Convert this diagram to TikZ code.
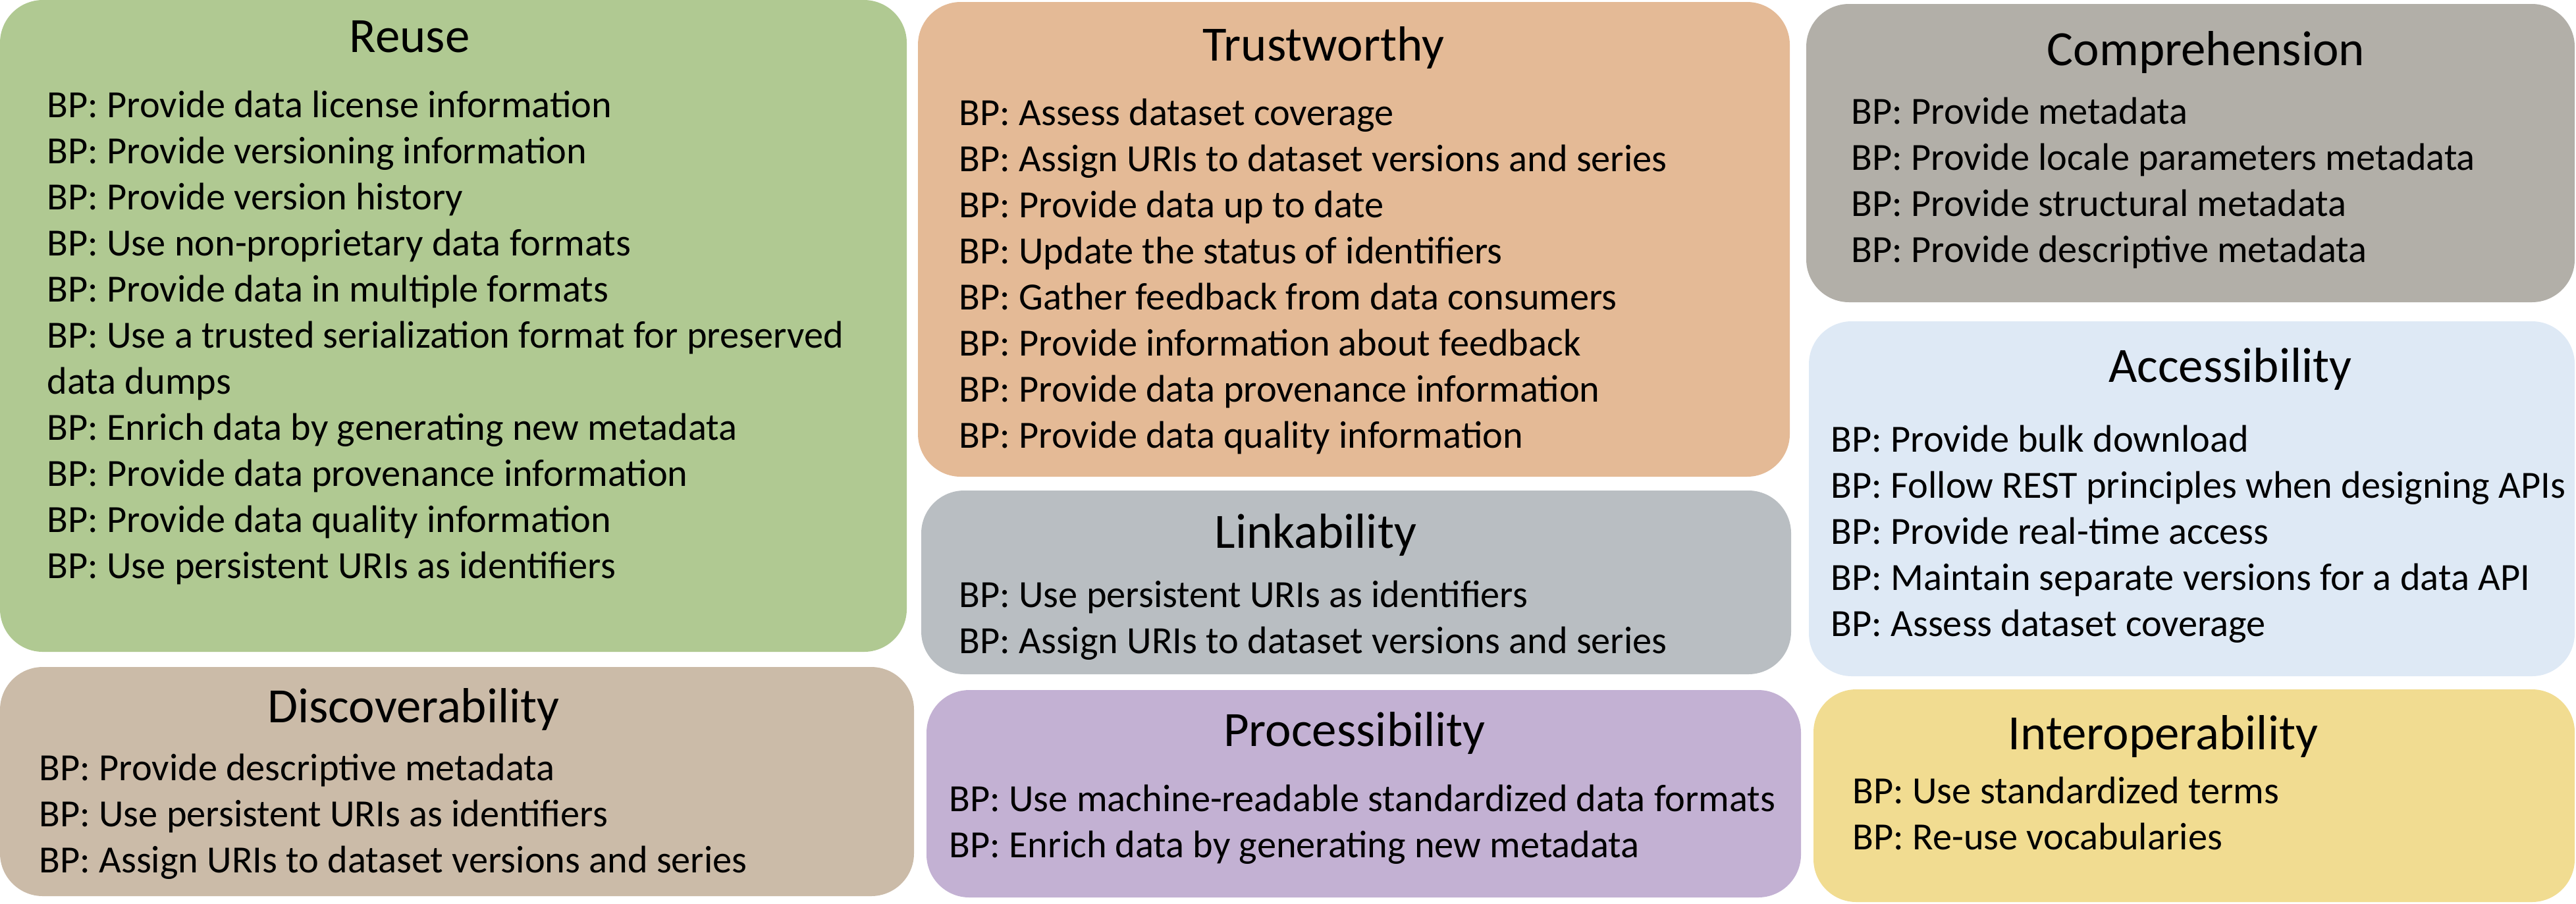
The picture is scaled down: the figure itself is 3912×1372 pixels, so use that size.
\documentclass[tikz,border=0pt]{standalone}
\usepackage{fontspec}
\setmainfont{Carlito}
\usepackage{tikz}
\usepackage{xcolor}

\definecolor{reusegreen}{HTML}{B0C992}
\definecolor{trustorange}{HTML}{E4BA96}
\definecolor{compgray}{HTML}{B2AFA8}
\definecolor{accessblue}{HTML}{DEE9F5}
\definecolor{linkgray}{HTML}{B9BEC2}
\definecolor{discotan}{HTML}{CBBBA8}
\definecolor{procpurple}{HTML}{C3B1D3}
\definecolor{interyellow}{HTML}{F1DC91}

\tikzset{
  panel/.style={rounded corners=0.65cm},
  title/.style={anchor=base, inner sep=0pt, font=\fontsize{21.3}{25}\selectfont},
  bp/.style={anchor=base west, inner sep=0pt, font=\fontsize{16.6}{20}\selectfont}
}

\begin{document}
\begin{tikzpicture}[x=0.01cm, y=-0.01cm]
\useasboundingbox (0,0) rectangle (3912,1372);
% panels
\fill[panel, reusegreen] (0,0) rectangle (1377,990);
\fill[panel, trustorange] (1394,3) rectangle (2718,724);
\fill[panel, compgray] (2743,6) rectangle (3910,459);
\fill[panel, accessblue] (2747,488) rectangle (3910,1027);
\fill[panel, linkgray] (1399,745) rectangle (2720,1024);
\fill[panel, discotan] (0,1013) rectangle (1388,1361);
\fill[panel, procpurple] (1407,1048) rectangle (2735,1363);
\fill[panel, interyellow] (2754,1047) rectangle (3910,1370);
% Reuse
\node[title] (reuse) at (622,79) {Reuse};
\node[bp] (reuse1) at (71,178) {BP: Provide data license information};
\node[bp] (reuse2) at (71,248) {BP: Provide versioning information};
\node[bp] (reuse3) at (71,318) {BP: Provide version history};
\node[bp] (reuse4) at (71,388) {BP: Use non-proprietary data formats};
\node[bp] (reuse5) at (71,458) {BP: Provide data in multiple formats};
\node[bp] (reuse6) at (71,528) {BP: Use a trusted serialization format for preserved};
\node[bp] (reuse6b) at (71,598) {data dumps};
\node[bp] (reuse7) at (71,668) {BP: Enrich data by generating new metadata};
\node[bp] (reuse8) at (71,738) {BP: Provide data provenance information};
\node[bp] (reuse9) at (71,808) {BP: Provide data quality information};
\node[bp] (reuse10) at (71,878) {BP: Use persistent URIs as identifiers};
% Trustworthy
\node[title] (trust) at (2010,92) {Trustworthy};
\node[bp] (trust1) at (1456,190) {BP: Assess dataset coverage};
\node[bp] (trust2) at (1456,260) {BP: Assign URIs to dataset versions and series};
\node[bp] (trust3) at (1456,330) {BP: Provide data up to date};
\node[bp] (trust4) at (1456,400) {BP: Update the status of identifiers};
\node[bp] (trust5) at (1456,470) {BP: Gather feedback from data consumers};
\node[bp] (trust6) at (1456,540) {BP: Provide information about feedback};
\node[bp] (trust7) at (1456,610) {BP: Provide data provenance information};
\node[bp] (trust8) at (1456,680) {BP: Provide data quality information};
% Comprehension
\node[title] (comp) at (3350,99) {Comprehension};
\node[bp] (comp1) at (2811,188) {BP: Provide metadata};
\node[bp] (comp2) at (2811,258) {BP: Provide locale parameters metadata};
\node[bp] (comp3) at (2811,328) {BP: Provide structural metadata};
\node[bp] (comp4) at (2811,398) {BP: Provide descriptive metadata};
% Accessibility
\node[title] (access) at (3387,580) {Accessibility};
\node[bp] (access1) at (2780,686) {BP: Provide bulk download};
\node[bp] (access2) at (2780,756) {BP: Follow REST principles when designing APIs};
\node[bp] (access3) at (2780,826) {BP: Provide real-time access};
\node[bp] (access4) at (2780,896) {BP: Maintain separate versions for a data API};
\node[bp] (access5) at (2780,966) {BP: Assess dataset coverage};
% Linkability
\node[title] (link) at (1998,832) {Linkability};
\node[bp] (link1) at (1456,922) {BP: Use persistent URIs as identifiers};
\node[bp] (link2) at (1456,992) {BP: Assign URIs to dataset versions and series};
% Discoverability
\node[title] (disco) at (628,1097) {Discoverability};
\node[bp] (disco1) at (59,1185) {BP: Provide descriptive metadata};
\node[bp] (disco2) at (59,1255) {BP: Use persistent URIs as identifiers};
\node[bp] (disco3) at (59,1325) {BP: Assign URIs to dataset versions and series};
% Processibility
\node[title] (proc) at (2057,1133) {Processibility};
\node[bp] (proc1) at (1441,1232) {BP: Use machine-readable standardized data formats};
\node[bp] (proc2) at (1441,1302) {BP: Enrich data by generating new metadata};
% Interoperability
\node[title] (inter) at (3285,1138) {Interoperability};
\node[bp] (inter1) at (2813,1220) {BP: Use standardized terms};
\node[bp] (inter2) at (2813,1290) {BP: Re-use vocabularies};
\end{tikzpicture}
\end{document}
